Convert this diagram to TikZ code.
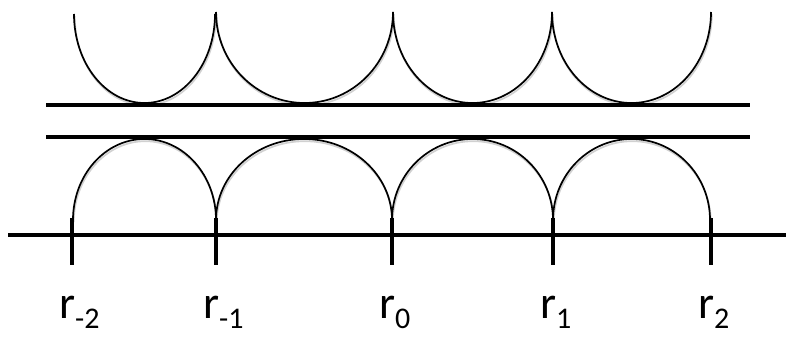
\documentclass[tikz,border=0pt]{standalone}
\usepackage{fontspec}
\setmainfont{Carlito}
\begin{document}
\begin{tikzpicture}[x=1pt,y=-1pt,
  thickline/.style={line width=4pt},
  arcline/.style={line width=1.7pt},
  tickline/.style={line width=4pt},
  lab/.style={anchor=base west, inner sep=0pt, font=\fontsize{46pt}{50pt}\selectfont}]
\useasboundingbox (0,0) rectangle (786,337);
\newcommand{\sublab}[1]{r\raisebox{-10pt}[0pt][0pt]{\fontsize{30pt}{32pt}\selectfont #1}}
% tick positions
\foreach \n/\x in {m2/72, m1/216, z/392, p1/553, p2/711}{
  \coordinate (t\n) at (\x,218);
  \coordinate (b\n) at (\x,265);
}
\coordinate (u1) at (46,105);
\coordinate (u2) at (750,105);
\coordinate (l1) at (46,137);
\coordinate (l2) at (750,137);
\coordinate (a1) at (8,235);
\coordinate (a2) at (786,235);
\newcommand{\allpaths}[1]{%
  % lower arcs (upward bumps)
  \draw[arcline,#1] (73,220) arc[start angle=180, end angle=360, x radius=71.5, y radius=81];
  \draw[arcline,#1] (216,220) arc[start angle=180, end angle=360, x radius=88, y radius=81];
  \draw[arcline,#1] (392,220) arc[start angle=180, end angle=360, x radius=80.5, y radius=81];
  \draw[arcline,#1] (553,220) arc[start angle=180, end angle=360, x radius=78.5, y radius=81];
  % upper arcs (U shapes)
  \draw[arcline,#1] (74,14) arc[start angle=180, end angle=0, x radius=70.5, y radius=89];
  \draw[arcline,#1] (216,12) arc[start angle=180, end angle=0, x radius=88.5, y radius=91];
  \draw[arcline,#1] (393,12) arc[start angle=180, end angle=0, x radius=79.5, y radius=91];
  \draw[arcline,#1] (552,12) arc[start angle=180, end angle=0, x radius=79.5, y radius=91];
  % horizontal lines
  \draw[thickline,#1] (u1) -- (u2);
  \draw[thickline,#1] (l1) -- (l2);
  \draw[thickline,#1] (a1) -- (a2);
  % ticks
  \foreach \n in {m2,m1,z,p1,p2}{
    \draw[tickline,#1] (t\n) -- (b\n);
  }%
}
% soft shadow
\begin{scope}[shift={(0.8,2.2)}]
  \allpaths{draw=black!18}
\end{scope}
\allpaths{draw=black}
% labels
\node[lab] (lm2) at (59,318) {\sublab{-2}};
\node[lab] (lm1) at (203,318) {\sublab{-1}};
\node[lab] (lz) at (379,318) {\sublab{0}};
\node[lab] (lp1) at (540,318) {\sublab{1}};
\node[lab] (lp2) at (698,318) {\sublab{2}};
\end{tikzpicture}
\end{document}
